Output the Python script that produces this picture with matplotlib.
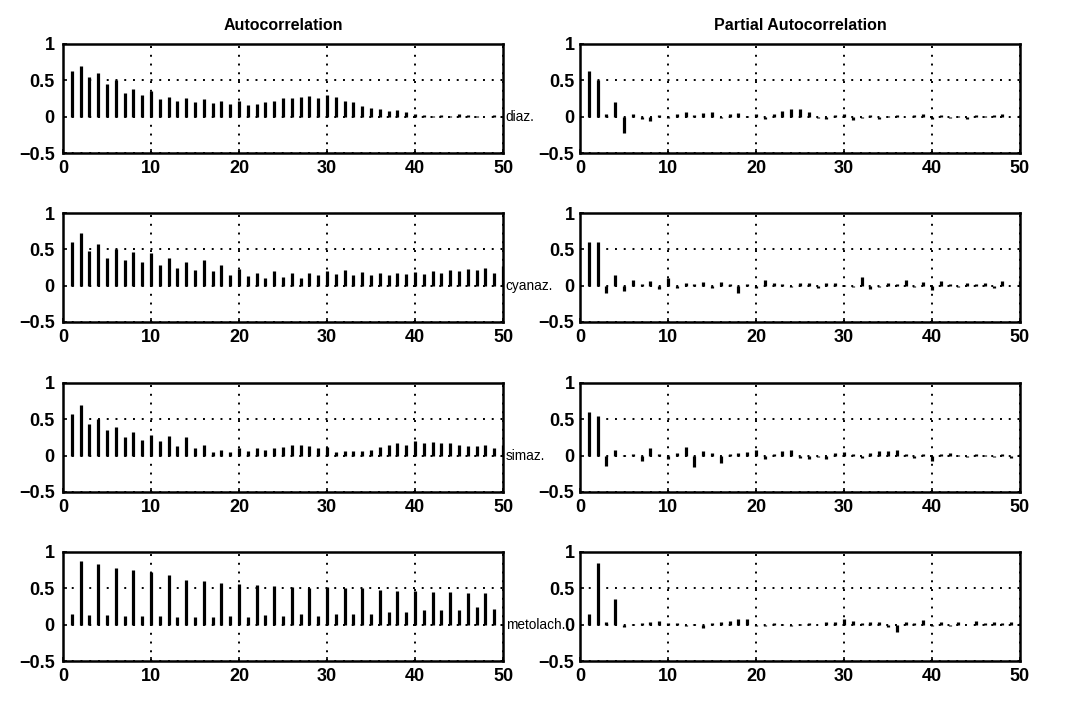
import numpy as np
import matplotlib.pyplot as plt

plt.rcParams['font.family'] = ['Liberation Sans', 'DejaVu Sans']

lags = np.arange(1, 51)
names = ["diaz.", "cyanaz.", "simaz.", "metolach."]

# sample autocorrelation, lags 1..50
acf_diaz = [0.63, 0.70, 0.55, 0.60, 0.45, 0.50, 0.33, 0.38, 0.30, 0.35,
            0.24, 0.27, 0.22, 0.26, 0.20, 0.24, 0.19, 0.22, 0.18, 0.21,
            0.16, 0.18, 0.20, 0.22, 0.25, 0.26, 0.27, 0.28, 0.26, 0.30,
            0.27, 0.22, 0.20, 0.15, 0.12, 0.10, 0.08, 0.09, 0.07, 0.04,
            0.02, 0.01, 0.02, 0.01, 0.03, 0.02, 0.01, 0.00, 0.02, 0.01]
acf_cyanaz = [0.60, 0.72, 0.48, 0.58, 0.38, 0.50, 0.35, 0.47, 0.32, 0.45,
              0.28, 0.38, 0.25, 0.33, 0.22, 0.36, 0.20, 0.28, 0.15, 0.23,
              0.13, 0.17, 0.10, 0.20, 0.12, 0.17, 0.10, 0.18, 0.14, 0.20,
              0.16, 0.22, 0.14, 0.19, 0.15, 0.18, 0.15, 0.18, 0.16, 0.19,
              0.16, 0.20, 0.17, 0.21, 0.20, 0.23, 0.22, 0.24, 0.18, 0.27]
acf_simaz = [0.58, 0.70, 0.43, 0.50, 0.35, 0.40, 0.25, 0.33, 0.22, 0.28,
             0.20, 0.27, 0.13, 0.25, 0.10, 0.15, 0.05, 0.08, 0.05, 0.10,
             0.07, 0.10, 0.08, 0.10, 0.12, 0.15, 0.15, 0.13, 0.10, 0.12,
             0.05, 0.06, 0.06, 0.07, 0.08, 0.12, 0.15, 0.18, 0.15, 0.20,
             0.18, 0.19, 0.18, 0.17, 0.14, 0.13, 0.13, 0.14, 0.10, 0.15]
acf_metolach = [0.15, 0.87, 0.13, 0.84, 0.13, 0.78, 0.12, 0.75, 0.12, 0.72,
                0.12, 0.68, 0.10, 0.62, 0.10, 0.60, 0.10, 0.58, 0.12, 0.56,
                0.10, 0.55, 0.13, 0.53, 0.12, 0.52, 0.15, 0.51, 0.12, 0.52,
                0.15, 0.50, 0.15, 0.50, 0.15, 0.48, 0.17, 0.46, 0.18, 0.47,
                0.20, 0.45, 0.20, 0.45, 0.20, 0.43, 0.25, 0.43, 0.22, 0.00]

# sample partial autocorrelation, lags 1..50
pacf_diaz = [0.63, 0.50, 0.04, 0.20, -0.22, 0.03, -0.03, -0.06, 0.02, -0.02,
             0.03, 0.06, 0.02, 0.05, 0.06, -0.02, 0.04, 0.05, 0.01, 0.03,
             -0.03, 0.04, 0.08, 0.10, 0.10, 0.06, -0.02, -0.03, 0.02, 0.04,
             -0.04, -0.02, 0.02, -0.03, 0.01, 0.02, -0.01, 0.02, 0.03, -0.03,
             0.02, -0.02, 0.01, -0.03, 0.02, 0.01, 0.02, 0.03, -0.01, 0.02]
pacf_cyanaz = [0.60, 0.60, -0.10, 0.15, -0.08, 0.08, 0.02, 0.07, -0.04, 0.10,
               -0.03, 0.03, 0.02, 0.05, -0.03, 0.05, 0.02, -0.10, 0.02, -0.03,
               0.08, 0.03, 0.02, -0.02, 0.03, 0.04, -0.03, 0.04, 0.03, 0.01,
               -0.02, 0.12, -0.04, -0.02, 0.04, 0.02, 0.08, -0.02, 0.05, -0.06,
               0.07, 0.02, -0.02, 0.03, 0.02, 0.04, -0.03, 0.06, -0.01, 0.07]
pacf_simaz = [0.60, 0.55, -0.14, 0.08, 0.01, 0.02, -0.08, 0.10, 0.02, -0.04,
              0.03, 0.12, -0.15, 0.06, 0.03, -0.10, 0.02, 0.03, 0.05, 0.08,
              -0.04, 0.02, 0.07, 0.08, -0.03, -0.04, -0.02, -0.05, 0.04, 0.05,
              0.02, -0.03, 0.04, 0.06, 0.06, 0.08, 0.02, -0.03, 0.02, -0.08,
              0.02, 0.03, 0.01, -0.02, 0.02, 0.01, -0.02, 0.02, -0.03, 0.02]
pacf_metolach = [0.15, 0.85, 0.03, 0.35, -0.03, 0.01, 0.02, 0.03, 0.05, 0.02,
                 0.02, -0.02, 0.01, -0.04, 0.02, 0.04, 0.05, 0.08, 0.08, -0.02,
                 -0.02, 0.02, 0.01, -0.02, 0.01, 0.02, -0.01, 0.04, 0.03, 0.08,
                 0.05, 0.02, 0.03, 0.04, -0.03, -0.10, 0.04, 0.02, 0.06, -0.02,
                 0.03, -0.02, 0.04, -0.01, 0.05, 0.02, 0.03, 0.02, 0.03, 0.02]

acf = [acf_diaz, acf_cyanaz, acf_simaz, acf_metolach]
pacf = [pacf_diaz, pacf_cyanaz, pacf_simaz, pacf_metolach]

fig = plt.figure(figsize=(10.72, 7.09), dpi=100)

W, H = 1072, 709
col_x = [63, 580]
ax_w = 440
row_top = [44, 213, 383, 552]
ax_h = 109


def style(ax, ypad):
    ax.set_xlim(0, 50)
    ax.set_ylim(-0.5, 1)
    ax.set_xticks([0, 10, 20, 30, 40, 50])
    ax.set_yticks([-0.5, 0, 0.5, 1])
    ax.set_yticklabels(['\u22120.5', '0', '0.5', '1'])
    ax.grid(True, linestyle=(0, (1, 3.5)), color='black', linewidth=1.4)
    ax.tick_params(direction='in', length=3, width=1.2, labelsize=13)
    ax.tick_params(axis='x', pad=5)
    ax.tick_params(axis='y', pad=ypad)
    for lab in ax.get_xticklabels() + ax.get_yticklabels():
        lab.set_fontweight('bold')
    for sp in ax.spines.values():
        sp.set_linewidth(1.8)


for r in range(4):
    for c, data in enumerate([acf, pacf]):
        left = col_x[c] / W
        bottom = (H - row_top[r] - ax_h) / H
        ax = fig.add_axes([left, bottom, ax_w / W, ax_h / H])
        ax.vlines(lags, 0, data[r], color='black', linewidth=2.3)
        style(ax, 6 if c == 0 else 4)
        if c == 0:
            ax.text(50.3, 0, names[r], fontsize=9.8, va='center', ha='left',
                    clip_on=False)
        if r == 0:
            ax.set_title("Autocorrelation" if c == 0 else "Partial Autocorrelation",
                         fontsize=11.5, fontweight='bold', pad=10)

fig.savefig("out.png", dpi=100)
